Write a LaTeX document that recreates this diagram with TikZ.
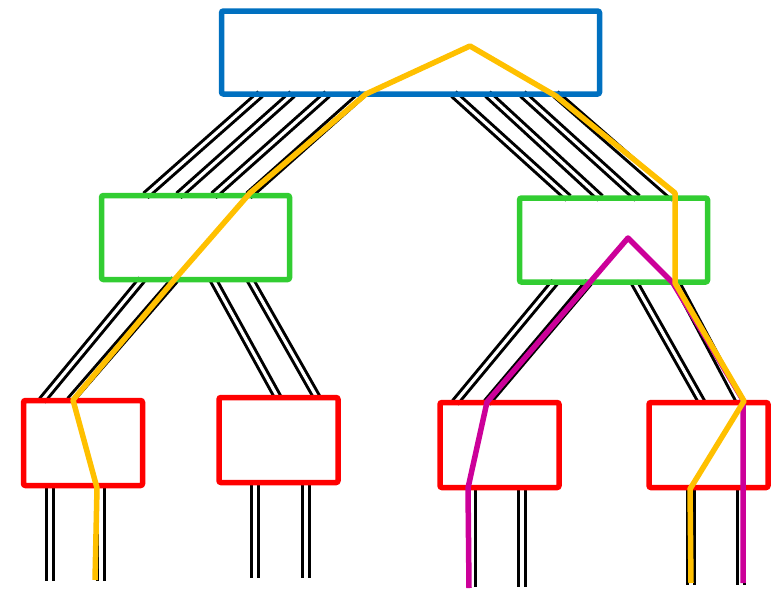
\documentclass[tikz,border=0pt]{standalone}
\usetikzlibrary{backgrounds}
\usepackage{xcolor}
\definecolor{corecol}{RGB}{0,112,192}
\definecolor{aggcol}{RGB}{50,205,50}
\definecolor{edgecol}{RGB}{255,0,0}
\definecolor{routeA}{RGB}{255,192,0}
\definecolor{routeB}{RGB}{204,0,153}
\tikzset{
  % Switch box (common)
  switchbox/.style={
    rectangle, rounded corners=2pt, draw, line width=5.5pt,
    inner sep=0pt, outer sep=0pt, minimum height=85pt
  },
  % Core switch
  corebox/.style={
    switchbox, draw=corecol, minimum width=378pt, minimum height=83pt
  },
  % Aggregation switch
  aggbox/.style={
    switchbox, draw=aggcol, minimum width=188pt, minimum height=84pt
  },
  % Edge switch
  edgebox/.style={
    switchbox, draw=edgecol, minimum width=119pt
  },
  % Double link
  link/.style={
    draw=black, line width=3pt, double=white, double distance=3.2pt
  },
  % Route overlay
  route/.style={
    line width=5.5pt, line join=round
  },
}
\begin{document}
\begin{tikzpicture}[x=1pt, y=-1pt]
  \useasboundingbox (0,0) rectangle (777,590);
  \node[corebox] (core) at (410.5,52.5) {};
  \node[aggbox]  (aggL) at (195.5,237.5) {};
  \node[aggbox]  (aggR) at (613.5,240) {};
  \node[edgebox] (edge1) at (83,443) {};
  \node[edgebox] (edge2) at (278.5,440) {};
  \node[edgebox] (edge3) at (499.5,445) {};
  \node[edgebox] (edge4) at (708.5,445) {};

  \begin{scope}[on background layer]
    % core -- aggregation
    \foreach \a/\b in {39/44, 71/77, 106/112, 141/147}
      \draw[link] ([xshift=\a]core.south west) -- ([xshift=\b]aggL.north west);
    \foreach \a/\b in {232/49, 266/81, 301/118, 334/155}
      \draw[link] ([xshift=\a]core.south west) -- ([xshift=\b]aggR.north west);
    % aggregation -- edge
    \draw[link] ([xshift=40.5]aggL.south west) -- ([xshift=18.5]edge1.north west);
    \draw[link] ([xshift=73.5]aggL.south west) -- ([xshift=46.5]edge1.north west);
    \draw[link] ([xshift=111.5]aggL.south west) -- ([xshift=59]edge2.north west);
    \draw[link] ([xshift=148.5]aggL.south west) -- ([xshift=98]edge2.north west);
    \draw[link] ([xshift=35.5]aggR.south west) -- ([xshift=15]edge3.north west);
    \draw[link] ([xshift=69.5]aggR.south west) -- ([xshift=47]edge3.north west);
    \draw[link] ([xshift=114.5]aggR.south west) -- ([xshift=53]edge4.north west);
    \draw[link] ([xshift=156.5]aggR.south west) -- ([xshift=91]edge4.north west);
    % edge -- hosts
    \foreach \n/\a/\b/\l in {edge1/26.5/77.5/95.5, edge2/36/87/95.5,
                             edge3/32/82/99.5, edge4/42/92/97.5}
    {
      \draw[link] ([xshift=\a]\n.south west) -- ++(0,\l);
      \draw[link] ([xshift=\b]\n.south west) -- ++(0,\l);
    }
  \end{scope}

  % routes
  \draw[route, routeB] (469,588) -- (468,488) -- (487,402) -- (628,238)
    -- (673,283) -- (743,400) -- (743,583);
  \draw[route, routeA] (95,580) -- (97,488) -- (73,400) -- (175,279)
    -- (250,193) -- (366,94) -- (470,46) -- (556,96) -- (675,193)
    -- (675,283) -- (744,401) -- (690,489) -- (691,583);
\end{tikzpicture}
\end{document}
